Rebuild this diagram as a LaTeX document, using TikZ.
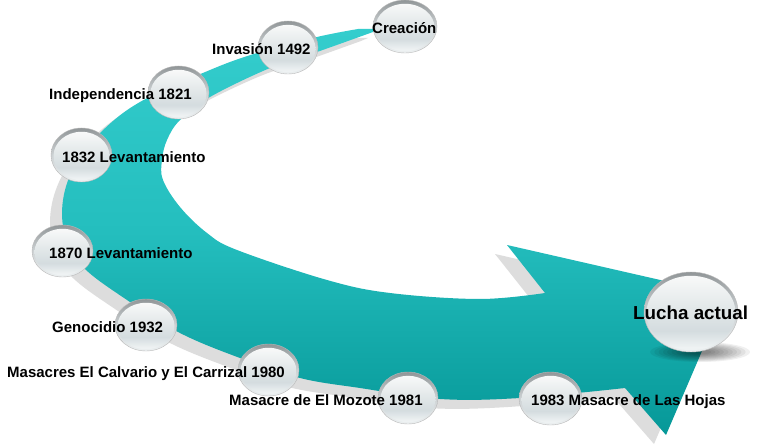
\documentclass[tikz,border=0pt]{standalone}
\usepackage{fontspec}
\setmainfont{Liberation Sans}
\definecolor{rimT}{RGB}{145,150,152}
\definecolor{rimM}{RGB}{205,210,212}
\definecolor{rimB}{RGB}{236,240,241}
\definecolor{fT}{RGB}{248,249,249}
\definecolor{fM}{RGB}{228,233,234}
\definecolor{fB}{RGB}{212,220,223}
\definecolor{fW}{RGB}{238,242,243}
\definecolor{aT}{RGB}{52,205,205}
\definecolor{aM}{RGB}{36,190,190}
\definecolor{aB}{RGB}{6,152,152}
\definecolor{shadowgray}{RGB}{221,221,221}
\pgfdeclareverticalshading{ballrim}{100bp}{color(0bp)=(rimB); color(25bp)=(rimB); color(50bp)=(rimM); color(75bp)=(rimT); color(100bp)=(rimT)}
\pgfdeclareverticalshading{ballface}{100bp}{color(0bp)=(fW); color(27bp)=(fW); color(38bp)=(fB); color(55bp)=(fM); color(75bp)=(fT); color(100bp)=(fT)}
\pgfdeclareverticalshading{arrowsh}{100bp}{color(0bp)=(aB); color(25bp)=(aB); color(50bp)=(aM); color(75bp)=(aT); color(100bp)=(aT)}
\tikzset{
  lbl/.style={anchor=base west, inner sep=0pt, font=\bfseries\fontsize{15}{18}\selectfont},
  biglbl/.style={anchor=base west, inner sep=0pt, font=\bfseries\fontsize{18.8}{22}\selectfont},
  ballnode/.style={ellipse, inner sep=0pt},
}
\newcommand\mkball[5]{%
  \path[shading=ballrim, draw=gray!55, line width=0.4pt] (#2,#3) ellipse [x radius=#4pt, y radius=#5pt];
  \path[shading=ballface] (#2,#3+1) ellipse [x radius=#4pt-2.5pt, y radius=#5pt-2.8pt];
  \node[ballnode, minimum width=2*#4pt, minimum height=2*#5pt] (#1) at (#2,#3) {};
}
\usetikzlibrary{shapes.geometric}
\begin{document}
\begin{tikzpicture}[x=1pt,y=-1pt]
\useasboundingbox (0,0) rectangle (759,446);
\fill[white] (0,0) rectangle (759,446);
% arrow outline
\def\arrowpath{(380,29) -- plot[smooth, tension=0.6] coordinates {(358,29) (317,37) (257,53) (210,70) (140,102) (100,133) (75,165) (63,200) (65,235) (83,267) (127,300) (180,333) (240,358) (300,378) (360,388) (440,399) (520,398) (625,388)} -- (666,435) -- (726,295) -- (507,245) -- plot[smooth, tension=0.6] coordinates {(545,293) (480,299) (390,293) (327,280) (237,250) (207,233) (180,207) (163,180) (162,160) (167,140) (180,120) (210,97) (270,68) (317,52) (373,32)} -- cycle}
\begin{scope}[shift={(-12,9)}]
\fill[shadowgray] \arrowpath;
\end{scope}
\path[shading=arrowsh] \arrowpath;
% soft shadow under the last ball
\foreach \k in {0,...,9} {
  \fill[black, opacity=0.06] (700,352) ellipse [x radius={50pt-4.3pt*\k}, y radius={10pt-0.85pt*\k}];
}
% balls
\mkball{b1}{405}{26.5}{32}{26.5}
\mkball{b2}{288}{47.5}{30}{26.5}
\mkball{b3}{178.5}{92.5}{30.5}{26.5}
\mkball{b4}{81.5}{155}{30.5}{27}
\mkball{b5}{62.5}{251}{30.5}{26}
\mkball{b6}{146}{325}{31}{26}
\mkball{b7}{268.5}{370}{30.5}{26}
\mkball{b8}{408}{398}{30}{26}
\mkball{b9}{550.5}{398.5}{31.5}{26.5}
\mkball{b10}{691}{312}{47}{40}
% labels
\node[lbl] (t1) at (372,34) {Creación};
\node[lbl] (t2) at (212,55) {Invasión 1492};
\node[lbl] (t3) at (49,100) {Independencia 1821};
\node[lbl] (t4) at (62,162.5) {1832 Levantamiento};
\node[lbl] (t5) at (49,258.5) {1870 Levantamiento};
\node[lbl] (t6) at (52,332) {Genocidio 1932};
\node[lbl] (t7) at (7,377) {Masacres El Calvario y El Carrizal 1980};
\node[lbl] (t8) at (229,405.5) {Masacre de El Mozote 1981};
\node[lbl] (t9) at (531,405.5) {1983 Masacre de Las Hojas};
\node[biglbl] (t10) at (633,319.5) {Lucha actual};
\end{tikzpicture}
\end{document}
